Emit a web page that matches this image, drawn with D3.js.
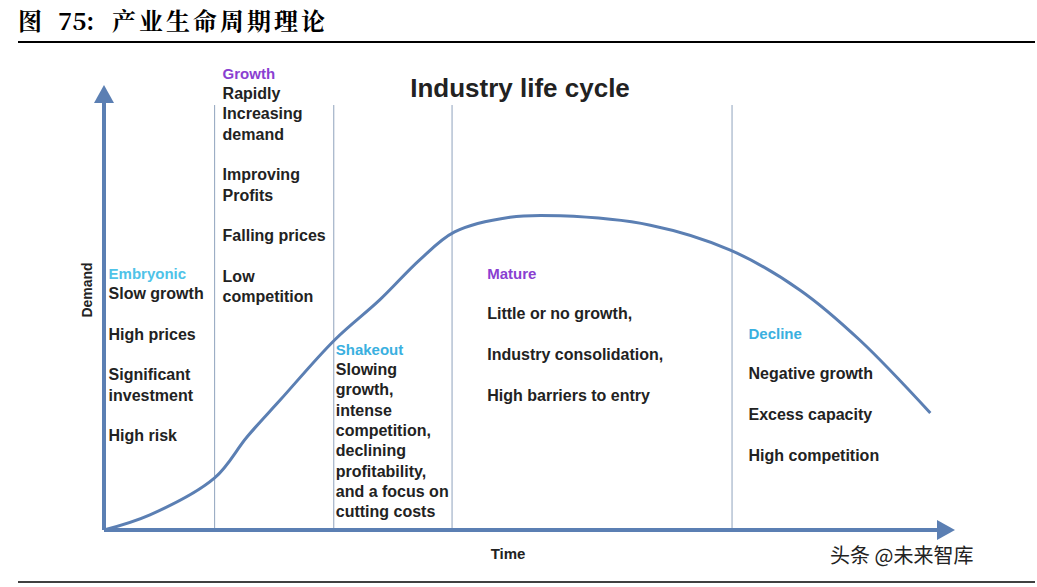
<!DOCTYPE html><html><head><meta charset="utf-8"><script src="https://d3js.org/d3.v7.min.js"></script>
<style>body{margin:0;background:#fff}</style></head><body><svg id="c" width="1037" height="587"></svg>
<script>
const curveTime=[0,5.4,13.0,16.8,20.7,27.1,32.4,37.1,41.2,47.7,53.6,64.2,73.6,81.8,88.8,97.1];
const curveDemand=[0,3.4,11.7,20.9,29.2,42.7,51.7,60.7,67.0,70.3,70.6,68.5,62.9,53.9,42.7,26.3];
const stageBounds=[13.0,27.0,40.9,73.8];
const stages=[
 {name:"Embryonic",color:"#4fc3e8",t:0.3,top:273,lines:["Slow growth","","High prices","","Significant","investment","","High risk"]},
 {name:"Growth",color:"#8a3fd1",t:13.7,top:73,lines:["Rapidly","Increasing","demand","","Improving","Profits","","Falling prices","","Low","competition"]},
 {name:"Shakeout",color:"#3ab0e0",t:27.0,top:349,lines:["Slowing","growth,","intense","competition,","declining","profitability,","and a focus on","cutting costs"]},
 {name:"Mature",color:"#8a3fd1",t:44.8,top:273,lines:["","Little or no growth,","","Industry consolidation,","","High barriers to entry"]},
 {name:"Decline",color:"#3ab0e0",t:75.5,top:333,lines:["","Negative growth","","Excess capacity","","High competition"]}
];
const svg=d3.select("#c");
const x=d3.scaleLinear().domain([0,100]).range([104,955]);
const y=d3.scaleLinear().domain([0,100]).range([530,85]);
const hf="Noto Serif CJK SC, Liberation Serif, serif";
svg.append("text").attr("x",18).attr("y",30).attr("font-family",hf).attr("font-weight","bold").attr("font-size",24).text("图");
svg.append("text").attr("x",58).attr("y",30).attr("font-family",hf).attr("font-weight","bold").attr("font-size",24).text("75:");
svg.append("text").attr("x",112).attr("y",30).attr("font-family",hf).attr("font-weight","bold").attr("font-size",24).attr("letter-spacing",3).text("产业生命周期理论");
svg.append("line").attr("x1",18).attr("x2",1035).attr("y1",42).attr("y2",42).attr("stroke","#000").attr("stroke-width",2);
svg.append("line").attr("x1",18).attr("x2",1035).attr("y1",582).attr("y2",582).attr("stroke","#000").attr("stroke-width",1.5);
stageBounds.forEach(b=>svg.append("line").attr("x1",x(b)).attr("x2",x(b)).attr("y1",y(95.5)).attr("y2",y(0)).attr("stroke","#8fa3bd").attr("stroke-width",1));
const ac="#5b7fb3";
svg.append("line").attr("x1",x(0)).attr("x2",x(100)-10).attr("y1",y(0)).attr("y2",y(0)).attr("stroke",ac).attr("stroke-width",4);
svg.append("line").attr("x1",x(0)).attr("x2",x(0)).attr("y1",y(0)).attr("y2",y(100)+10).attr("stroke",ac).attr("stroke-width",4);
svg.append("path").attr("d",`M${x(100)},${y(0)} l-18,-10 v20 z`).attr("fill",ac);
svg.append("path").attr("d",`M${x(0)},${y(100)} l-10,18 h20 z`).attr("fill",ac);
svg.append("path").datum(curveTime.map((t,i)=>[t,curveDemand[i]]))
 .attr("d",d3.line().x(d=>x(d[0])).y(d=>y(d[1])).curve(d3.curveCatmullRom))
 .attr("fill","none").attr("stroke",ac).attr("stroke-width",3);
const f="Liberation Sans, Arial, sans-serif";
svg.append("text").attr("x",520).attr("y",97).attr("text-anchor","middle").attr("font-family",f).attr("font-size",26).attr("font-weight","bold").attr("fill","#222").text("Industry life cycle");
svg.append("text").attr("x",508).attr("y",559).attr("text-anchor","middle").attr("font-family",f).attr("font-size",15).attr("font-weight","bold").attr("fill","#222").text("Time");
svg.append("text").attr("transform","translate(92,290) rotate(-90)").attr("text-anchor","middle").attr("font-family",f).attr("font-size",14).attr("font-weight","bold").attr("fill","#222").text("Demand");
stages.forEach(s=>{
 const g=svg.append("g").attr("font-family",f).attr("font-size",16).attr("font-weight","bold");
 g.append("text").attr("x",x(s.t)+2).attr("y",s.top+6).attr("fill",s.color).attr("font-size",15).text(s.name);
 s.lines.forEach((l,i)=>g.append("text").attr("x",x(s.t)+2).attr("y",s.top+26+i*20.3).attr("fill","#222").text(l));
});
svg.append("text").attr("x",830).attr("y",563).attr("font-family","Noto Sans CJK SC, sans-serif").attr("font-size",20).attr("fill","#222").text("头条 @未来智库");
</script></body></html>
